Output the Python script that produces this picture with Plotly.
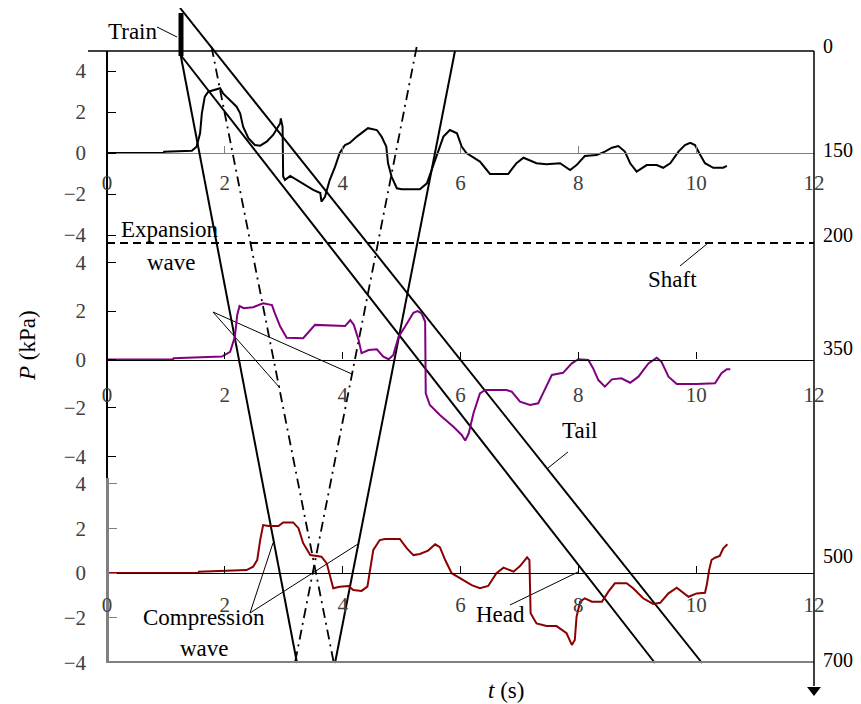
import plotly.graph_objects as go

FONT = "Liberation Serif"
OFF = 8                       # page body margin
W, H = 861 - OFF, 704 - OFF   # figure size so that it ends at the window edge
X0, X1 = 107, 814             # plot area left/right (window pixels)
ML, MR = X0 - OFF, W - (X1 - OFF)

# ---------------- pressure histories (t in s, P in kPa) ----------------
# panel 1 : 150 m
t1 = [0, 0.96, 0.97, 1.44, 1.52, 1.58, 1.61, 1.66, 1.72, 1.83,
      1.92, 1.97, 2.09, 2.20, 2.26, 2.31, 2.40, 2.51, 2.60, 2.71,
      2.82, 2.94, 2.95, 2.98, 2.99, 3.02, 3.11, 3.30, 3.50, 3.62,
      3.64, 3.70, 3.78, 3.87, 3.95, 4.04, 4.12, 4.24, 4.43, 4.58,
      4.66, 4.74, 4.77, 4.83, 4.92, 5.00, 5.31, 5.43, 5.51, 5.60,
      5.71, 5.82, 5.94, 6.02, 6.10, 6.33, 6.50, 6.81, 6.95, 7.07,
      7.29, 7.46, 7.69, 7.86, 7.97, 8.11, 8.31, 8.45, 8.57, 8.68,
      8.79, 8.88, 8.99, 9.16, 9.33, 9.44, 9.56, 9.70, 9.81, 9.90,
      9.98, 10.07, 10.15, 10.29, 10.46, 10.52]
p1 = [0, 0, 0.06, 0.11, 0.31, 0.96, 1.94, 2.75, 2.99, 3.07,
      3.16, 2.91, 2.59, 2.26, 1.94, 1.28, 0.72, 0.39, 0.36, 0.55,
      0.88, 1.45, 1.69, 1.28, -1.15, -1.32, -1.12, -1.45, -1.80, -1.95,
      -2.37, -2.14, -1.32, -0.68, 0.00, 0.39, 0.49, 0.80, 1.21, 1.12,
      0.80, 0.31, -0.50, -1.15, -1.72, -1.77, -1.77, -1.48, -0.83, 0.00,
      0.80, 1.12, 0.96, 0.31, 0.00, -0.42, -1.02, -1.02, -0.50, -0.23,
      -0.50, -0.55, -0.50, -0.83, -0.59, -0.15, -0.10, 0.07, 0.26, 0.34,
      0.07, -0.50, -0.91, -0.59, -0.59, -0.72, -0.50, 0.07, 0.39, 0.50,
      0.39, -0.10, -0.50, -0.72, -0.72, -0.63]

# panel 2 : 350 m
t2 = [0, 1.12, 1.13, 1.95, 2.09, 2.17, 2.21, 2.25, 2.32, 2.48,
      2.65, 2.80, 2.85, 2.94, 3.05, 3.33, 3.53, 3.87, 4.04, 4.13,
      4.19, 4.27, 4.32, 4.44, 4.58, 4.69, 4.78, 4.86, 4.95, 5.06,
      5.20, 5.27, 5.34, 5.40, 5.41, 5.48, 5.65, 5.88, 6.02, 6.08,
      6.14, 6.22, 6.33, 6.42, 6.78, 6.87, 7.01, 7.18, 7.32, 7.40,
      7.55, 7.74, 7.89, 8.00, 8.17, 8.25, 8.34, 8.45, 8.57, 8.73,
      8.88, 9.02, 9.19, 9.33, 9.41, 9.53, 9.67, 10.01, 10.32, 10.43,
      10.52, 10.58]
p2 = [0, 0, 0.05, 0.12, 0.32, 0.94, 1.84, 2.21, 2.12, 2.16,
      2.32, 2.25, 1.91, 1.36, 0.90, 0.88, 1.43, 1.38, 1.38, 1.63,
      1.43, 0.81, 0.26, 0.39, 0.42, 0.12, 0.01, 0.19, 0.94, 1.36,
      1.93, 2.00, 1.91, 1.56, -1.40, -1.88, -2.29, -2.78, -3.12, -3.35,
      -3.05, -2.22, -1.40, -1.26, -1.26, -1.33, -1.74, -1.88, -1.81, -1.40,
      -0.64, -0.55, -0.16, 0.01, -0.02, -0.36, -0.85, -1.12, -0.82, -0.78,
      -0.96, -0.71, -0.16, 0.07, -0.09, -0.71, -1.01, -1.01, -0.98, -0.57,
      -0.40, -0.40]

# panel 3 : 500 m
t3 = [0, 1.55, 1.56, 2.37, 2.48, 2.55, 2.60, 2.65, 2.74, 2.91,
      2.99, 3.16, 3.25, 3.33, 3.45, 3.64, 3.73, 3.79, 3.84, 3.95,
      4.10, 4.18, 4.32, 4.42, 4.46, 4.52, 4.63, 4.72, 4.97, 5.09,
      5.20, 5.31, 5.45, 5.57, 5.65, 5.74, 5.85, 5.99, 6.19, 6.33,
      6.47, 6.61, 6.73, 6.90, 7.01, 7.13, 7.17, 7.19, 7.29, 7.46,
      7.63, 7.80, 7.89, 7.94, 7.97, 8.03, 8.11, 8.23, 8.40, 8.51,
      8.62, 8.82, 8.93, 9.10, 9.27, 9.39, 9.53, 9.67, 9.75, 9.87,
      10.01, 10.15, 10.18, 10.22, 10.26, 10.32, 10.40, 10.46, 10.53]
p3 = [0, 0.01, 0.06, 0.13, 0.28, 0.58, 1.47, 2.14, 2.10, 2.10,
      2.26, 2.26, 2.00, 1.33, 0.80, 0.73, 0.43, -0.24, -0.68, -0.61,
      -0.58, -0.76, -0.80, -0.61, -0.01, 1.03, 1.47, 1.52, 1.52, 1.10,
      0.80, 0.85, 1.00, 1.28, 1.15, 0.58, -0.01, -0.24, -0.54, -0.68,
      -0.58, -0.01, 0.24, 0.06, 0.31, 0.70, 0.58, -1.80, -2.25, -2.37,
      -2.37, -2.69, -3.21, -2.99, -1.95, -1.28, -1.13, -1.28, -1.28, -0.83,
      -0.46, -0.46, -0.68, -1.13, -1.38, -1.33, -0.91, -0.66, -0.83, -1.06,
      -0.91, -0.88, -0.54, 0.13, 0.58, 0.68, 0.76, 1.10, 1.28]

pressure_ticks = [-4, -2, 0, 2, 4]
time_ticks = [0, 2, 4, 6, 8, 10, 12]

# ---------------- schematic distance axis (picture depth units) ----------------
dist_labels = ["0", "150", "200", "350", "500", "700"]
dist_label_depth = [46, 150, 235, 348, 556, 660]

train_t = [1.256, 1.256]; train_d = [13, 56]
head_t = [1.25, 9.30];    head_d = [55, 663]
tail_t = [1.24, 10.10];   tail_d = [8, 663]
comp_t = [1.25, 3.225];   comp_d = [55, 663]
refl_t = [3.87, 5.906];   refl_d = [663, 51]
expA_t = [1.775, 3.85];   expA_d = [47, 663]
expB_t = [5.256, 3.19];   expB_d = [47, 663]
shaft_t = [0, 12];        shaft_d = [243, 243]

# leader lines: (t0, d0, t1, d1)
leaders = [
    (0.849, 27, 1.188, 37),     # Train
    (1.799, 312, 2.936, 388),   # Expansion wave
    (1.799, 312, 4.158, 374),
    (2.427, 613, 2.817, 543),   # Compression wave
    (2.427, 613, 4.260, 544),
    (9.725, 266, 10.183, 244),  # Shaft
    (7.485, 468, 7.824, 452),   # Tail
    (6.840, 605, 7.994, 572),   # Head
]
label_text = ["Train", "Expansion", "wave", "Compression", "wave", "Shaft", "Tail", "Head"]
label_t = [0.441, 1.069, 1.103, 1.646, 1.663, 9.606, 8.028, 6.687]
label_d = [31, 229, 262, 617, 648, 279, 430, 614]


def py(px):
    """window pixel row -> paper fraction"""
    return 1 - (px - OFF) / H


def pxx(px):
    """window pixel column -> paper fraction"""
    return (px - X0) / (X1 - X0)


panels = [
    dict(t=t1, p=p1, zero=153, ppk=20.5, top=51, bot=243, color="black",
         yline="black", ywidth=1.6, xline="#808080", standoff=11),
    dict(t=t2, p=p2, zero=359.5, ppk=24.2, top=243, bot=478, color="#800080",
         yline="black", ywidth=1.6, xline="black", standoff=16),
    dict(t=t3, p=p3, zero=573, ppk=22.4, top=478, bot=663, color="#8B0000",
         yline="#808080", ywidth=2.5, xline="black", standoff=13),
]

fig = go.Figure()
layout = dict(
    width=W, height=H,
    margin=dict(l=ML, r=MR, t=0, b=0, pad=0, autoexpand=False),
    paper_bgcolor="white", plot_bgcolor="rgba(0,0,0,0)",
    showlegend=False,
    font=dict(family=FONT, color="black"),
)

for i, pn in enumerate(panels, start=1):
    sx = "" if i == 1 else str(i)
    fig.add_trace(go.Scatter(x=pn["t"], y=pn["p"], mode="lines",
                             line=dict(color=pn["color"], width=2),
                             xaxis="x" + sx, yaxis="y" + sx, hoverinfo="skip"))
    layout["xaxis" + sx] = dict(
        domain=[0, 1], range=[0, 12], anchor="free", position=py(pn["zero"]),
        automargin=False,
        showline=True, linecolor=pn["xline"], linewidth=1.3,
        ticks="inside", ticklen=7, tickcolor=pn["xline"], tickwidth=1,
        tickvals=time_ticks, tickfont=dict(size=21, color="#404040", family=FONT),
        ticklabelstandoff=pn["standoff"], showgrid=False, zeroline=False,
    )
    layout["yaxis" + sx] = dict(
        domain=[py(pn["bot"]), py(pn["top"])],
        range=[(pn["zero"] - pn["bot"]) / pn["ppk"], (pn["zero"] - pn["top"]) / pn["ppk"]],
        anchor="free", position=0, automargin=False,
        showline=True, linecolor=pn["yline"], linewidth=pn["ywidth"],
        ticks="inside", ticklen=8, tickcolor=pn["yline"], tickwidth=1,
        tickvals=pressure_ticks, tickfont=dict(size=21, color="#404040", family=FONT),
        ticklabelstandoff=16, showgrid=False, zeroline=False,
    )

layout["yaxis4"] = dict(domain=[0, 1], range=[704, OFF], anchor="x", visible=False,
                        showgrid=False, zeroline=False, automargin=False)


def wave(tt, dd, width=2, dash=None, color="black"):
    fig.add_trace(go.Scatter(x=tt, y=dd, mode="lines", xaxis="x", yaxis="y4",
                             line=dict(color=color, width=width, dash=dash),
                             hoverinfo="skip", cliponaxis=False))


wave(shaft_t, shaft_d, width=2, dash="8px,5px")
wave(train_t, train_d, width=5)
wave(head_t, head_d, width=2)
wave(tail_t, tail_d, width=2)
wave(comp_t, comp_d, width=2)
wave(refl_t, refl_d, width=2)
wave(expA_t, expA_d, width=1.8, dash="10px,5px,2px,5px")
wave(expB_t, expB_d, width=1.8, dash="10px,5px,2px,5px")
for (a, b, c, d) in leaders:
    wave([a, c], [b, d], width=1)

# arrow head at the end of the distance axis
fig.add_trace(go.Scatter(x=[12], y=[690], mode="markers", xaxis="x", yaxis="y4",
                         marker=dict(symbol="triangle-down", size=12, color="black"),
                         cliponaxis=False, hoverinfo="skip"))

shapes = [
    dict(type="line", xref="paper", yref="paper", x0=pxx(88), x1=1,
         y0=py(51), y1=py(51), line=dict(color="black", width=1.5)),
    dict(type="line", xref="paper", yref="paper", x0=0, x1=1,
         y0=py(662), y1=py(662), line=dict(color="#808080", width=1.8)),
    dict(type="line", xref="paper", yref="paper", x0=1, x1=1,
         y0=py(51), y1=py(686), line=dict(color="black", width=1.5)),
]
layout["shapes"] = shapes

ann = []
for txt, tt, dd in zip(label_text, label_t, label_d):
    ann.append(dict(text=txt, x=tt, y=dd, xref="x", yref="y4", showarrow=False,
                    xanchor="center", yanchor="middle",
                    font=dict(size=23, family=FONT, color="black")))
for txt, dd in zip(dist_labels, dist_label_depth):
    ann.append(dict(text=txt, x=pxx(821), y=dd, xref="paper", yref="y4", showarrow=False,
                    xanchor="left", yanchor="middle",
                    font=dict(size=20, family=FONT, color="black")))
ann.append(dict(text="<i>P</i> (kPa)", x=pxx(27), y=346, xref="paper",
                yref="y4", showarrow=False, textangle=-90, xanchor="center",
                yanchor="middle", font=dict(size=23, family=FONT, color="black")))
ann.append(dict(text="<i>t</i> (s)", x=6.77, y=690, xref="x", yref="y4",
                showarrow=False, xanchor="center", yanchor="middle",
                font=dict(size=23, family=FONT, color="black")))
layout["annotations"] = ann

fig.update_layout(**layout)
fig.write_html("out.html")
